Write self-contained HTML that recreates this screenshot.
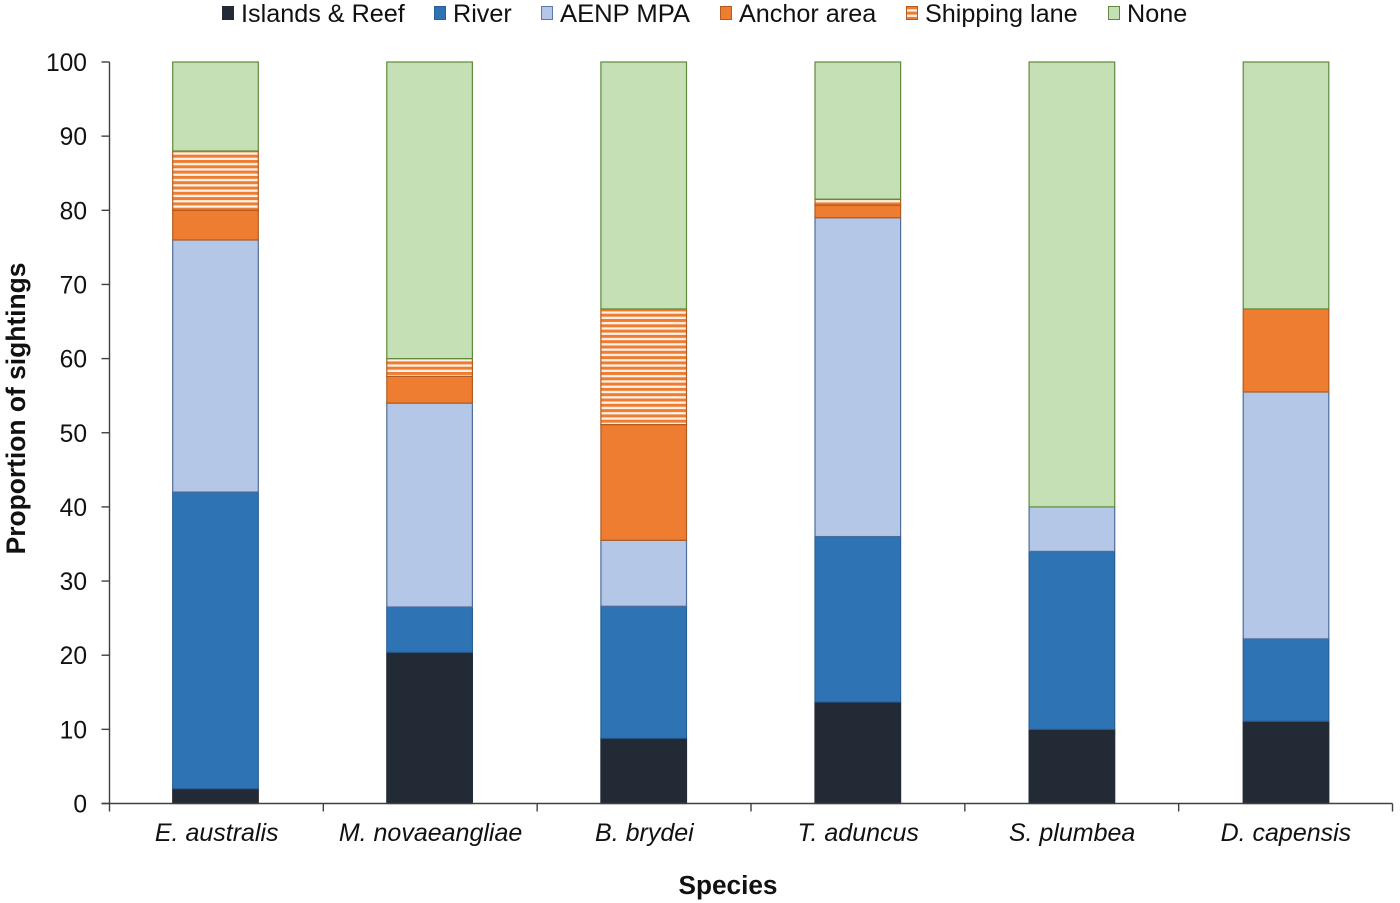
<!DOCTYPE html>
<html lang="en">
<head>
<meta charset="utf-8">
<title>Proportion of sightings by species</title>
<style>
html,body{margin:0;padding:0;background:#fff;}
svg{display:block;font-family:"Liberation Sans",Arial,sans-serif;fill:#111;filter:blur(0.35px);}
</style>
</head>
<body>
<svg id="chart" xmlns="http://www.w3.org/2000/svg" width="1400" height="903" viewBox="0 0 1400 903">
  <defs>
    <pattern id="hatch" patternUnits="userSpaceOnUse" width="8" height="5.3" patternTransform="translate(0 1)">
      <rect width="8" height="5.3" fill="#fdf1e8"/>
      <rect y="0" width="8" height="3" fill="#ee7d31"/>
    </pattern>
  </defs>
  <g id="legend" font-size="25.2">
    <g>
      <rect x="222.5" y="6.5" width="11" height="13" fill="#222b35" stroke="#222b35"/>
      <text x="241" y="22">Islands &amp; Reef</text>
    </g>
    <g>
      <rect x="434.5" y="6.5" width="11" height="13" fill="#2e74b5" stroke="#2a5f94"/>
      <text x="453" y="22">River</text>
    </g>
    <g>
      <rect x="541.5" y="6.5" width="11" height="13" fill="#b4c7e7" stroke="#5b78a8"/>
      <text x="560" y="22" textLength="130" lengthAdjust="spacingAndGlyphs">AENP MPA</text>
    </g>
    <g>
      <rect x="720.5" y="6.5" width="11" height="13" fill="#ee7d31" stroke="#b25a20"/>
      <text x="739" y="22">Anchor area</text>
    </g>
    <g>
      <rect x="906.5" y="6.5" width="11" height="13" fill="url(#hatch)" stroke="#b25a20"/>
      <text x="925" y="22">Shipping lane</text>
    </g>
    <g>
      <rect x="1108.5" y="6.5" width="11" height="13" fill="#c5e0b4" stroke="#5f8a3c"/>
      <text x="1127" y="22">None</text>
    </g>
  </g>
  <g id="bars"></g>
  <g id="axes"></g>
  <text transform="translate(25 408.5) rotate(-90)" text-anchor="middle" font-size="26.4" font-weight="bold">Proportion of sightings</text>
  <text x="728" y="894" text-anchor="middle" font-size="26.2" font-weight="bold">Species</text>
</svg>
<script>
const categories = ["E. australis", "M. novaeangliae", "B. brydei", "T. aduncus", "S. plumbea", "D. capensis"];
const yTicks = [0, 10, 20, 30, 40, 50, 60, 70, 80, 90, 100];
const islandsReef = [2, 20.4, 8.8, 13.7, 10, 11.1];
const river = [40, 6.1, 17.8, 22.3, 24, 11.1];
const aenpMpa = [34, 27.5, 8.9, 43, 6, 33.3];
const anchorArea = [4, 3.6, 15.6, 1.7, 0, 11.2];
const shippingLane = [8, 2.4, 15.6, 0.8, 0, 0];
const none = [12, 40, 33.3, 18.5, 60, 33.3];

const seriesList = [
  {key: "islands-reef", values: islandsReef, fill: "#222b35", stroke: "#222b35"},
  {key: "river", values: river, fill: "#2e74b5", stroke: "#2a5f94"},
  {key: "aenp-mpa", values: aenpMpa, fill: "#b4c7e7", stroke: "#4f6c9c"},
  {key: "anchor-area", values: anchorArea, fill: "#ee7d31", stroke: "#b25a20"},
  {key: "shipping-lane", values: shippingLane, fill: "url(#hatch)", stroke: "#b25a20"},
  {key: "none", values: none, fill: "#c5e0b4", stroke: "#5f8a3c"}
];

const NS = "http://www.w3.org/2000/svg";
const plotLeft = 109.5, plotRight = 1392.5, plotTop = 62, plotBottom = 803.5;
const yMax = 100;
const barWidth = 85.6;
const barFirstCenter = 215.5, barStep = 214.1;
const bandWidth = (plotRight - plotLeft) / categories.length;

function yScale(v) {
  return plotBottom - (v / yMax) * (plotBottom - plotTop);
}
function xCenter(i) {
  return plotLeft + bandWidth * (i + 0.5);
}
function barCenter(i) {
  return barFirstCenter + barStep * i;
}
function slug(s) {
  return s.toLowerCase().replace(/[^a-z]+/g, "-").replace(/-$/, "");
}
function make(tag, attrs, parent) {
  const el = document.createElementNS(NS, tag);
  for (const k in attrs) el.setAttribute(k, attrs[k]);
  parent.appendChild(el);
  return el;
}

const barsLayer = document.getElementById("bars");
categories.forEach(function (cat, i) {
  let cumulative = 0;
  seriesList.forEach(function (s) {
    const v = s.values[i];
    if (v <= 0) return;
    const yTop = yScale(cumulative + v);
    const yBottom = yScale(cumulative);
    const seg = make("rect", {
      x: barCenter(i) - barWidth / 2,
      y: yTop,
      width: barWidth,
      height: yBottom - yTop,
      fill: s.fill,
      stroke: s.stroke,
      "stroke-width": 1.2
    }, barsLayer);
    
    
    cumulative += v;
  });
});

const axesLayer = document.getElementById("axes");
const yAxisLine = make("line", {x1: plotLeft, x2: plotLeft, y1: plotTop, y2: plotBottom + 8, stroke: "#404040", "stroke-width": 1.4}, axesLayer);


const xAxisLine = make("line", {x1: plotLeft - 8, x2: plotRight, y1: plotBottom, y2: plotBottom, stroke: "#404040", "stroke-width": 1.4}, axesLayer);



yTicks.forEach(function (t) {
  const y = yScale(t);
  const tick = make("line", {x1: plotLeft - 8, x2: plotLeft, y1: y, y2: y, stroke: "#404040", "stroke-width": 1.4}, axesLayer);
  
  
  const label = make("text", {x: 87, y: y + 9, "text-anchor": "end", "font-size": 24.6}, axesLayer);
  label.textContent = String(t);
  
  
});

categories.forEach(function (cat, i) {
  const xEdge = plotLeft + bandWidth * (i + 1);
  const tick = make("line", {x1: xEdge, x2: xEdge, y1: plotBottom, y2: plotBottom + 8, stroke: "#404040", "stroke-width": 1.4}, axesLayer);
  
  
  const label = make("text", {x: xCenter(i) + 0.3, y: 841, "text-anchor": "middle", "font-size": 25, "font-style": "italic"}, axesLayer);
  label.textContent = cat;
  
  
});
</script>
</body>
</html>
